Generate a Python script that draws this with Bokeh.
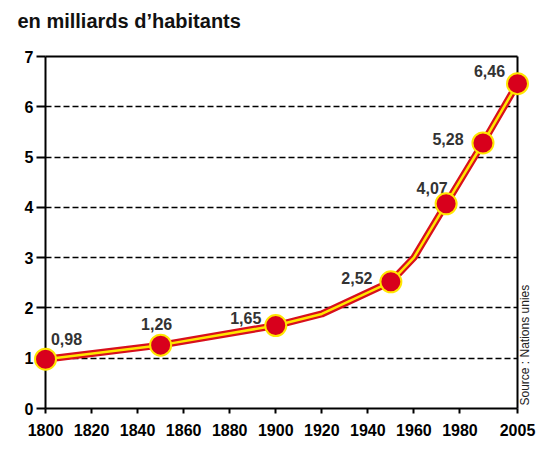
import math
from bokeh.plotting import figure
from bokeh.models import Range1d, FixedTicker, Label, ColumnDataSource, LabelSet, Grid, LinearAxis
from bokeh.embed import file_html
from bokeh.resources import INLINE
from bokeh.core.properties import value

# data
years = [1800, 1850, 1900, 1950, 1974, 1990, 2005]
population = [0.98, 1.26, 1.65, 2.52, 4.07, 5.28, 6.46]
labels = ["0,98", "1,26", "1,65", "2,52", "4,07", "5,28", "6,46"]
line_years = [1800, 1850, 1900, 1920, 1950, 1960, 1974, 1990, 2005]
line_population = [0.98, 1.26, 1.65, 1.88, 2.52, 3.0, 4.07, 5.28, 6.46]
x_ticks = [1800, 1820, 1840, 1860, 1880, 1900, 1920, 1940, 1960, 1980, 2005]
y_ticks = [0, 1, 2, 3, 4, 5, 6, 7]
grid_ticks = [1, 2, 3, 4, 5, 6]
x_start, x_end = 1800, 2005
y_start, y_end = 0, 7
title_text = "en milliards d\u2019habitants"
source_text = "Source : Nations unies"

# label offsets in pixels (styling)
lx_off = [21, -4, -30, -34, -14, -35, -28]
ly_off = [20, 21, 8, 4, 16, 4, 13]

# layout: the frame covers the whole canvas; axes sit at fixed data locations
W, H = 545, 450
AX_L, AX_R, AX_T, AX_B = 45, 517, 56, 408   # page pixels of the chart box
PX_PER_YEAR = (AX_R - AX_L) / (x_end - x_start)
PX_PER_UNIT = (AX_B - AX_T) / (y_end - y_start)
xr = Range1d(x_start - AX_L / PX_PER_YEAR, x_end + (W - AX_R) / PX_PER_YEAR)
yr = Range1d(y_start - (H - AX_B) / PX_PER_UNIT, y_end + AX_T / PX_PER_UNIT)

p = figure(width=W, height=H, output_backend="svg", toolbar_location=None,
           x_range=xr, y_range=yr,
           min_border_left=0, min_border_right=0, min_border_top=0, min_border_bottom=0)
p.background_fill_color = "white"
p.border_fill_color = "white"
p.outline_line_color = None

FONT = "Liberation Sans"
for ax in (p.xaxis[0], p.yaxis[0]):
    ax.axis_line_width = 2
    ax.axis_line_color = "black"
    ax.major_tick_line_width = 2
    ax.major_tick_line_color = "black"
    ax.major_tick_in = 0
    ax.minor_tick_line_color = None
    ax.major_label_text_font = FONT
    ax.major_label_text_font_style = "bold"
    ax.major_label_text_font_size = "16px"
    ax.major_label_text_color = "black"

p.xaxis.ticker = FixedTicker(ticks=x_ticks)
p.xaxis.bounds = (x_start, x_end)
p.xaxis.fixed_location = y_start
p.xaxis.major_tick_out = 5
p.xaxis.major_label_standoff = 10
p.yaxis.ticker = FixedTicker(ticks=y_ticks)
p.yaxis.bounds = (y_start, y_end)
p.yaxis.fixed_location = x_start
p.yaxis.major_tick_out = 9
p.yaxis.major_label_standoff = 3

# right and top frame lines as plain axes without ticks
for dim_bounds, fixed, side in (((y_start, y_end), x_end, "right"),
                                ((x_start, x_end), y_end, "above")):
    ax = LinearAxis(ticker=FixedTicker(ticks=[]), bounds=dim_bounds, fixed_location=fixed,
                    axis_line_width=2, axis_line_color="black",
                    major_tick_line_color=None, minor_tick_line_color=None,
                    major_label_text_font_size="0px")
    p.add_layout(ax, side)

p.xgrid.grid_line_color = None
p.ygrid.ticker = FixedTicker(ticks=grid_ticks)
p.ygrid.grid_line_color = "black"
p.ygrid.grid_line_width = 1.6
p.ygrid.grid_line_dash = "6 3"
if "cross_bounds" in Grid.properties():
    p.ygrid.cross_bounds = (x_start, x_end)

p.line(line_years, line_population, line_color="#d8101c", line_width=7, line_join="round",
       level="overlay")
p.line(line_years, line_population, line_color="#ffe600", line_width=2.5, line_join="round",
       level="overlay")

src = ColumnDataSource(dict(x=years, y=population, t=labels, xo=lx_off, yo=ly_off))
p.scatter("x", "y", source=src, size=21, fill_color="#d8001c", line_color="#ffe600",
          line_width=2, level="overlay")

lab = LabelSet(x="x", y="y", text="t", source=src, x_offset="xo", y_offset="yo",
               text_font=value(FONT), text_font_style="bold", text_font_size="16px",
               text_color="#333333", text_align="center", text_baseline="middle")
p.add_layout(lab)

p.add_layout(Label(x=17, y=H - 20, x_units="screen", y_units="screen", text=title_text,
                   text_font=FONT, text_font_style="bold", text_font_size="20px",
                   text_color="#111111", text_align="left", text_baseline="alphabetic"))

p.add_layout(Label(x=517, y=H - 405, x_units="screen", y_units="screen", text=source_text,
                   angle=math.pi / 2, text_font=FONT, text_font_size="12px",
                   text_color="#222222", text_align="left", text_baseline="top"))

open("out.html", "w").write(file_html(p, INLINE))
